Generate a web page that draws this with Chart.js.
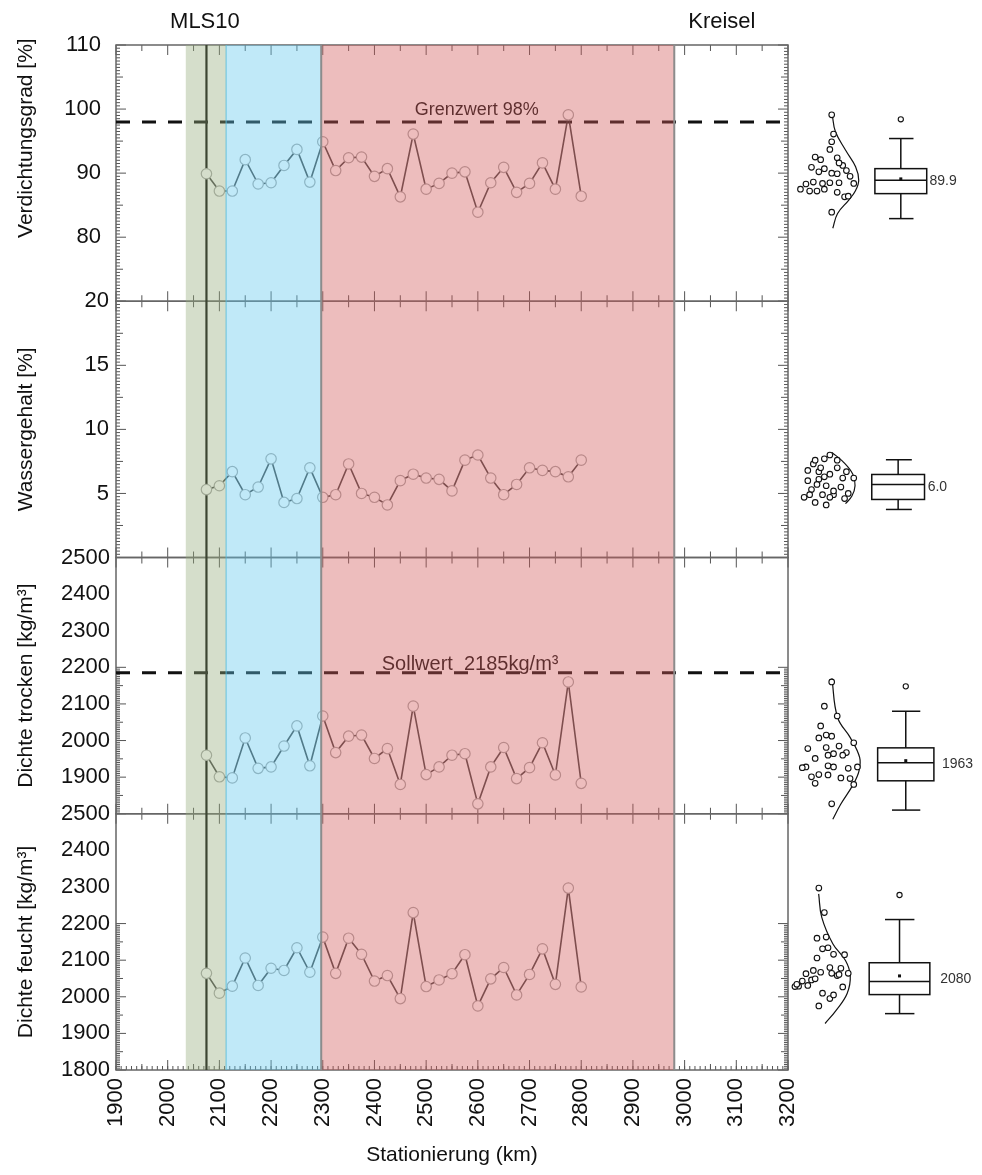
<!DOCTYPE html>
<html>
<head>
<meta charset="utf-8">
<script src="https://cdn.jsdelivr.net/npm/chart.js@4.4.1/dist/chart.umd.min.js"></script>
<style>
  body { margin: 0; background: #fff; }
  #wrap { position: relative; width: 982px; height: 1175px; }
  #main { position: absolute; left: 0; top: 0; }
  #side { position: absolute; left: 788px; top: 0; }
</style>
</head>
<body>
<div id="wrap">
  <canvas id="main" width="982" height="1175"></canvas>
  <canvas id="side" width="194" height="1175"></canvas>
</div>
<script>
// Stationierung der Messpunkte
var station = [2075, 2100, 2125, 2150, 2175, 2200, 2225, 2250, 2275, 2300, 2325, 2350, 2375, 2400, 2425,
               2450, 2475, 2500, 2525, 2550, 2575, 2600, 2625, 2650, 2675, 2700, 2725, 2750, 2775, 2800];
// Messwerte je Panel
var verdichtung = [89.9, 87.2, 87.2, 92.1, 88.3, 88.5, 91.2, 93.7, 88.6, 94.9, 90.4, 92.4, 92.5, 89.5, 90.7,
                   86.3, 96.1, 87.5, 88.4, 90.0, 90.2, 83.9, 88.5, 90.9, 87.0, 88.4, 91.6, 87.5, 99.1, 86.4];
var wasser = [5.3, 5.6, 6.7, 4.9, 5.5, 7.7, 4.3, 4.6, 7.0, 4.7, 4.9, 7.3, 5.0, 4.7, 4.1,
              6.0, 6.5, 6.2, 6.1, 5.2, 7.6, 8.0, 6.2, 4.9, 5.7, 7.0, 6.8, 6.7, 6.3, 7.6];
var trocken = [1960, 1901, 1898, 2007, 1924, 1928, 1985, 2040, 1931, 2067, 1967, 2012, 2015, 1951, 1978,
               1880, 2094, 1907, 1928, 1960, 1964, 1827, 1928, 1981, 1896, 1926, 1994, 1906, 2160, 1883];
var feucht = [2064, 2010, 2029, 2106, 2031, 2078, 2072, 2134, 2067, 2163, 2064, 2160, 2116, 2043, 2058,
              1995, 2230, 2028, 2046, 2063, 2115, 1975, 2049, 2080, 2005, 2061, 2131, 2034, 2297, 2027];

// Bereiche (Stationierung)
var bandStart = [2035, 2113, 2297];
var bandEnd = [2113, 2297, 2980];
var mlsStation = 2075;
var grenzwert = 98;
var sollwert = 2185;

// Streuung neben den Boxplots (horizontaler Versatz)
var jitter1 = [24, 9, 13, 15, 7, 25, 27, 20, 11, 21, 29, 24, 12, 31, 17, 28, 22, 4, 16, 21, 14, 21, 20, 10, 24, 33, 25, 17, 21, 30];
var jitter2 = [10, 18, 14, 22, 26, 17, 12, 28, 24, 6, 16, 11, 30, 20, 18, 8, 20, 27, 14, 22, 24, 20, 33, 9, 13, 15, 8, 29, 17, 12];
var jitter3 = [19, 10, 26, 14, 30, 7, 25, 15, 19, 24, 29, 21, 18, 12, 8, 33, 17, 14, 35, 27, 22, 21, 22, 18, 31, 5, 33, 19, 21, 12];
var jitter4 = [21, 16, 3, 13, 8, 26, 11, 19, 15, 18, 30, 13, 22, 5, 24, 20, 17, 1, 10, 7, 28, 14, 12, 20, 22, 25, 16, 2, 14, 27];

// Normalverteilungskurven (Dichte, Wert)
var curveDens1 = [21.3, 23.0, 28.5, 34.0, 35.7, 34.0, 30.3, 24.2, 21.6];
var curveVal1 = [99.1, 96.5, 93.6, 91.0, 88.9, 87.3, 85.8, 83.7, 81.4];
var curveDens2 = [21.1, 27.0, 32.5, 33.7, 32.0, 28.5];
var curveVal2 = [8.2, 7.5, 6.5, 5.6, 4.8, 4.2];
var curveDens3 = [21.1, 24.2, 31.1, 36.2, 35.9, 32.8, 25.9, 21.6];
var curveVal3 = [2170, 2063, 2008, 1954, 1918, 1881, 1826, 1785];
var curveDens4 = [13.9, 15.6, 21.6, 28.5, 31.1, 29.4, 23.4, 17.4];
var curveVal4 = [2281, 2217, 2145, 2099, 2058, 2009, 1963, 1927];

// Boxplot-Kennwerte
var boxLow = [82.9, 3.75, 1810, 1954];
var boxQ1 = [86.8, 4.53, 1890, 2006];
var boxMedian = [88.9, 5.7, 1939, 2042];
var boxQ3 = [90.7, 6.48, 1980, 2093];
var boxHigh = [95.4, 7.63, 2080, 2211];
var boxOutlier = [98.4, null, 2148, 2278];
var boxMean = [89.1, null, 1945, 2057];
var boxLabels = ['89.9', '6.0', '1963', '2080'];

var FONT = "'Liberation Sans', Arial, sans-serif";

var panels = [
  {id: 'p0', data: verdichtung, min: 70, max: 110, step: 10, pad: 15, title: '            Verdichtungsgrad [%]'},
  {id: 'p1', data: wasser, min: 0, max: 20, step: 5, pad: 7, title: 'Wassergehalt [%]'},
  {id: 'p2', data: trocken, min: 1800, max: 2500, step: 100, pad: 6, title: 'Dichte trocken [kg/m\u00B3]'},
  {id: 'p3', data: feucht, min: 1800, max: 2500, step: 100, pad: 6, title: 'Dichte feucht [kg/m\u00B3]'}
];
var jitters = [jitter1, jitter2, jitter3, jitter4];
var curves = [[curveDens1, curveVal1], [curveDens2, curveVal2], [curveDens3, curveVal3], [curveDens4, curveVal4]];

// Boxplot-Geometrie (Einheiten der Seitenachse 0..100)
var boxGeom = [
  {l: 44.5, r: 72.7, cl: 52.2, cr: 65.5, lx: 74.2},
  {l: 42.8, r: 71.5, cl: 50.5, cr: 64.6, lx: 73.2},
  {l: 46.0, r: 76.6, cl: 53.8, cr: 69.2, lx: 81.0},
  {l: 41.4, r: 74.4, cl: 50.0, cr: 66.0, lx: 80.0}
];
var bandFill = ['rgba(150,172,125,0.4)', 'rgba(98,200,237,0.4)', 'rgba(210,90,90,0.4)'];
var bandEdge = ['rgba(120,150,110,0.6)', 'rgba(90,190,220,0.9)', 'rgba(140,140,140,1)'];

// gestapelte Achsen: zuletzt eingetragene liegt oben, daher rückwärts
function yScales(visible) {
  var s = {};
  for (var i = panels.length - 1; i >= 0; i--) {
    (function (p, i) {
      s[p.id] = {
        type: 'linear', position: 'left', stack: 'panels', stackWeight: 1,
        min: p.min, max: p.max,
        grid: {display: false, drawTicks: false},
        border: {display: false},
        ticks: {
          display: visible, stepSize: p.step, padding: p.pad, color: '#111', autoSkip: false,
          font: {family: FONT, size: 22},
          callback: function (v) { return (i < 3 && v === p.min) ? '' : String(v); }
        },
        title: {display: visible, text: p.title, color: '#111', font: {family: FONT, size: 21}, padding: {top: 14, bottom: 0}},
        afterFit: function (sc) { sc.width = visible ? 116 : 0; }
      };
    })(panels[i], i);
  }
  return s;
}

function line(ctx, x1, y1, x2, y2) {
  ctx.beginPath(); ctx.moveTo(x1, y1); ctx.lineTo(x2, y2); ctx.stroke();
}

// Rahmen, Innenticks, MLS-Linie und Beschriftungen unter der Bereichsfarbe
var underlay = {
  id: 'underlay',
  beforeDatasetsDraw: function (chart) {
    var ctx = chart.ctx, xs = chart.scales.x, a = chart.chartArea;
    ctx.save();
    ctx.strokeStyle = '#555';
    ctx.lineWidth = 1;
    panels.forEach(function (p, i) {
      var ys = chart.scales[p.id];
      var minor = p.step / 20;
      for (var k = 0; k <= 80; k++) {
        var v = p.min + k * minor;
        if (v > p.max + 1e-9) break;
        var y = ys.getPixelForValue(v);
        var r = k % 20 === 0 ? 10 : (k % 10 === 0 ? 7 : 4);
        line(ctx, a.left, y, a.left + r, y);
        line(ctx, a.right, y, a.right - r, y);
      }
      for (var sv = 1900; sv <= 3200; sv += 50) {
        var x = xs.getPixelForValue(sv);
        var len = sv % 100 === 0 ? 10 : 6;
        line(ctx, x, ys.top, x, ys.top + len);
        line(ctx, x, ys.bottom, x, ys.bottom - len);
      }
      if (i === 3) {
        for (sv = 1900; sv <= 3200; sv += 10) {
          x = xs.getPixelForValue(sv);
          line(ctx, x, ys.bottom, x, ys.bottom - 4);
        }
      }
    });
    ctx.lineWidth = 1.5;
    ctx.strokeStyle = '#666';
    panels.forEach(function (p) {
      var ys = chart.scales[p.id];
      ctx.strokeRect(a.left, ys.top, a.right - a.left, ys.bottom - ys.top);
    });
    // MLS10
    ctx.strokeStyle = '#000';
    ctx.lineWidth = 2.2;
    var mx = xs.getPixelForValue(mlsStation);
    line(ctx, mx, a.top, mx, a.bottom);
    // Grenz-/Sollwert Texte
    ctx.fillStyle = '#111';
    ctx.font = '18px ' + FONT;
    ctx.textAlign = 'center';
    ctx.textBaseline = 'alphabetic';
    ctx.fillText('Grenzwert 98%', xs.getPixelForValue(2598), chart.scales.p0.getPixelForValue(grenzwert) - 7);
    ctx.font = '20px ' + FONT;
    var sx = xs.getPixelForValue(2585), sy = chart.scales.p2.getPixelForValue(sollwert) - 3;
    ctx.fillText('Sollwert  2185kg/m\u00B3', sx, sy);
    ctx.restore();
  },
  afterDatasetsDraw: function (chart) {
    var ctx = chart.ctx, xs = chart.scales.x, a = chart.chartArea;
    ctx.save();
    for (var b = 0; b < bandStart.length; b++) {
      var x0 = xs.getPixelForValue(bandStart[b]), x1 = xs.getPixelForValue(bandEnd[b]);
      ctx.fillStyle = bandFill[b];
      ctx.fillRect(x0, a.top, x1 - x0, a.bottom - a.top);
    }
    for (b = 0; b < bandStart.length; b++) {
      ctx.strokeStyle = bandEdge[b];
      ctx.lineWidth = b === 2 ? 2 : 1;
      x0 = xs.getPixelForValue(bandStart[b]);
      x1 = xs.getPixelForValue(bandEnd[b]);
      if (b > 0) line(ctx, x0, a.top, x0, a.bottom);
      if (b === 2) line(ctx, x1, a.top, x1, a.bottom);
    }
    ctx.restore();
  },
  afterDraw: function (chart) {
    var ctx = chart.ctx, xs = chart.scales.x;
    ctx.save();
    ctx.fillStyle = '#111';
    ctx.font = '22px ' + FONT;
    ctx.textAlign = 'center';
    ctx.textBaseline = 'middle';
    ctx.fillText('MLS10', xs.getPixelForValue(2072), 22);
    ctx.fillText('Kreisel', xs.getPixelForValue(3072), 22);
    ctx.restore();
  }
};

var mainSets = [];
panels.forEach(function (p) {
  mainSets.push({
    data: station.map(function (s, k) { return {x: s, y: p.data[k]}; }),
    yAxisID: p.id, showLine: true,
    borderColor: 'rgba(50,50,50,0.9)', borderWidth: 1.6,
    pointRadius: 5.2, pointBorderWidth: 1.2,
    pointBorderColor: '#a8a8a8', pointBackgroundColor: '#fff'
  });
});
mainSets.push({
  data: [{x: 1900, y: grenzwert}, {x: 3200, y: grenzwert}], yAxisID: 'p0', showLine: true,
  borderColor: '#111', borderWidth: 3, borderDash: [14, 12], pointRadius: 0
});
mainSets.push({
  data: [{x: 1900, y: sollwert}, {x: 3200, y: sollwert}], yAxisID: 'p2', showLine: true,
  borderColor: '#111', borderWidth: 3, borderDash: [14, 12], pointRadius: 0
});

var mainScales = yScales(true);
mainScales.x = {
  type: 'linear', min: 1900, max: 3200,
  grid: {display: false, drawTicks: false},
  border: {display: false},
  ticks: {stepSize: 100, minRotation: 90, maxRotation: 90, autoSkip: false, padding: 8, color: '#111',
    font: {family: FONT, size: 22}, callback: function (v) { return String(v); }},
  title: {display: true, text: 'Stationierung (km)', color: '#111', font: {family: FONT, size: 21}, padding: {top: 0, bottom: 7}},
  afterFit: function (sc) { sc.height = 105; }
};

new Chart(document.getElementById('main'), {
  type: 'scatter',
  data: {datasets: mainSets},
  options: {
    responsive: false, animation: false,
    layout: {padding: {top: 45, right: 194, bottom: 0, left: 0}},
    plugins: {legend: {display: false}, tooltip: {enabled: false}},
    scales: mainScales
  },
  plugins: [underlay]
});

// Seitenteil: Streuung, Verteilungskurve und Boxplot
var sideSets = [];
panels.forEach(function (p, i) {
  sideSets.push({
    data: p.data.map(function (v, k) { return {x: jitters[i][k], y: v}; }),
    yAxisID: p.id, clip: false,
    pointRadius: 2.8, pointBorderWidth: 1.1, pointBorderColor: '#111', pointBackgroundColor: '#fff'
  });
  sideSets.push({
    data: curves[i][0].map(function (d, k) { return {x: d, y: curves[i][1][k]}; }),
    yAxisID: p.id, clip: false, showLine: true, tension: 0.4,
    borderColor: '#111', borderWidth: 1.2, pointRadius: 0
  });
});

var boxes = {
  id: 'boxes',
  afterDatasetsDraw: function (chart) {
    var ctx = chart.ctx, xs = chart.scales.x;
    ctx.save();
    ctx.strokeStyle = '#111';
    ctx.lineWidth = 1.5;
    panels.forEach(function (p, i) {
      var ys = chart.scales[p.id], g = boxGeom[i];
      var l = xs.getPixelForValue(g.l), r = xs.getPixelForValue(g.r);
      var cl = xs.getPixelForValue(g.cl), cr = xs.getPixelForValue(g.cr);
      var cx = (l + r) / 2;
      var yq1 = ys.getPixelForValue(boxQ1[i]), yq3 = ys.getPixelForValue(boxQ3[i]);
      var ylo = ys.getPixelForValue(boxLow[i]), yhi = ys.getPixelForValue(boxHigh[i]);
      ctx.strokeRect(l, yq3, r - l, yq1 - yq3);
      var ym = ys.getPixelForValue(boxMedian[i]);
      line(ctx, l, ym, r, ym);
      line(ctx, cx, yq3, cx, yhi);
      line(ctx, cx, yq1, cx, ylo);
      line(ctx, cl, yhi, cr, yhi);
      line(ctx, cl, ylo, cr, ylo);
      if (boxMean[i] !== null) {
        ctx.fillStyle = '#111';
        ctx.fillRect(cx - 1.5, ys.getPixelForValue(boxMean[i]) - 1.5, 3, 3);
      }
      if (boxOutlier[i] !== null) {
        ctx.lineWidth = 1.1;
        ctx.beginPath();
        ctx.arc(cx, ys.getPixelForValue(boxOutlier[i]), 2.6, 0, Math.PI * 2);
        ctx.stroke();
        ctx.lineWidth = 1.5;
      }
      ctx.fillStyle = '#333';
      ctx.font = '14px ' + FONT;
      ctx.textAlign = 'left';
      ctx.textBaseline = 'middle';
      ctx.fillText(boxLabels[i], xs.getPixelForValue(g.lx), ys.getPixelForValue((boxQ1[i] + boxQ3[i]) / 2));
    });
    ctx.restore();
  }
};

var sideScales = yScales(false);
sideScales.x = {type: 'linear', min: 0, max: 100, display: false};

new Chart(document.getElementById('side'), {
  type: 'scatter',
  data: {datasets: sideSets},
  options: {
    responsive: false, animation: false,
    layout: {padding: {top: 45, right: 0, bottom: 105, left: 0}},
    plugins: {legend: {display: false}, tooltip: {enabled: false}},
    scales: sideScales
  },
  plugins: [boxes]
});
</script>
</body>
</html>
